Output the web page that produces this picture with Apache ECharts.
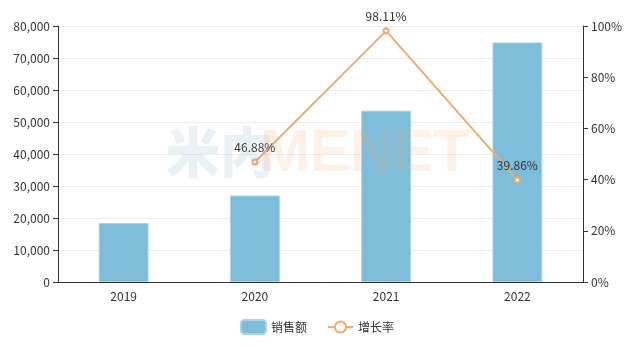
<!DOCTYPE html>
<html><head><meta charset="utf-8">
<script src="https://cdn.jsdelivr.net/npm/echarts@6/dist/echarts.min.js"></script>
<style>html,body{margin:0;padding:0;background:#fff}#c{width:634px;height:346px}</style>
</head><body><div id="c"></div>
<script>
var categories = ['2019', '2020', '2021', '2022'];
var salesValues = [18400, 27030, 53540, 74880];
var growthValues = [null, 46.88, 98.11, 39.86];
var leftTicks = [0, 80000, 10000];
var rightTicks = [0, 100, 20];

var chart = echarts.init(document.getElementById('c'));
var font = '"Noto Sans CJK SC", "Noto Sans", sans-serif';
chart.setOption({
  textStyle: {fontFamily: font},
  animation: false,
  graphic: [
    {type: 'text', left: 166, top: 125, z: 100, style: {text: '米内', font: '900 54px ' + font, fill: 'rgba(100,160,190,0.15)'}},
    {type: 'text', left: 260, top: 124, z: 100, style: {text: 'MENET', font: '900 60px "Liberation Sans", sans-serif', fill: 'rgba(250,170,100,0.15)'}}
  ],
  legend: {
    bottom: 6, left: 'center', itemWidth: 25, itemHeight: 14, itemGap: 20,
    textStyle: {color: '#333', fontSize: 12},
    data: ['销售额', '增长率']
  },
  grid: {left: 58, right: 51, top: 26, bottom: 64},
  xAxis: {
    type: 'category', data: categories,
    axisLine: {lineStyle: {color: '#333'}},
    axisTick: {lineStyle: {color: '#333'}},
    axisLabel: {color: '#333', fontSize: 12}
  },
  yAxis: [
    {type: 'value', min: leftTicks[0], max: leftTicks[1], interval: leftTicks[2],
     axisLine: {show: true, lineStyle: {color: '#333'}},
     axisTick: {show: true, lineStyle: {color: '#333'}},
     axisLabel: {color: '#333', fontSize: 12, formatter: function(v){return v.toLocaleString('en-US');}},
     splitLine: {lineStyle: {color: '#ebebeb'}}},
    {type: 'value', min: rightTicks[0], max: rightTicks[1], interval: rightTicks[2],
     axisLine: {show: true, lineStyle: {color: '#333'}},
     axisTick: {show: true, lineStyle: {color: '#333'}},
     axisLabel: {color: '#333', fontSize: 12, formatter: '{value}%'},
     splitLine: {show: false}}
  ],
  series: [
    {name: '销售额', type: 'bar', data: salesValues, barWidth: '38%',
     itemStyle: {color: '#7ebdda', borderColor: '#a9d3e6', borderWidth: 1}},
    {name: '增长率', type: 'line', yAxisIndex: 1, data: growthValues,
     symbol: 'emptyCircle', symbolSize: 5, connectNulls: false,
     lineStyle: {color: '#f2ab6d', width: 2},
     itemStyle: {color: '#f2ab6d'},
     label: {show: true, position: 'top', color: '#333', fontSize: 12,
             formatter: function(p){return p.value.toFixed(2) + '%';}}}
  ]
});
</script></body></html>
